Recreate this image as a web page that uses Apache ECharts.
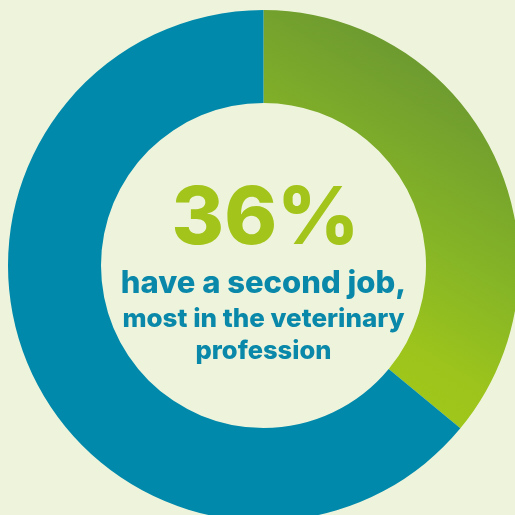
<!DOCTYPE html>
<html>
<head>
<meta charset="utf-8">
<script src="https://cdn.jsdelivr.net/npm/echarts@6/dist/echarts.min.js"></script>
<style>
  html, body { margin: 0; padding: 0; background: #eef4dc; }
  #chart { width: 515px; height: 515px; }
</style>
</head>
<body>
<div id="chart"></div>
<script>
// Share of respondents with a second job
const categories = ['Have a second job', 'No second job'];
const shares = [36, 64];
const headline = '36%';
const captionLines = ['have a second job,', 'most in the veterinary', 'profession'];

const chart = echarts.init(document.getElementById('chart'), null, { renderer: 'canvas' });

const greenFill = new echarts.graphic.LinearGradient(0, 1, 1, 0, [
  { offset: 0, color: '#a8cc14' },
  { offset: 0.3, color: '#9cc41c' },
  { offset: 0.5, color: '#86b526' },
  { offset: 1, color: '#5e8a36' }
]);
const sliceColors = [greenFill, '#0089ab'];

const fontFamily = 'Inter, "Open Sans", sans-serif';
const cx = 263.5;

function centreText(text, top, size, fill, shiftX) {
  return {
    type: 'text',
    x: cx + (shiftX || 0),
    y: top,
    silent: true,
    style: {
      text: text,
      fill: fill,
      font: '800 ' + size + 'px ' + fontFamily,
      align: 'center',
      verticalAlign: 'top'
    }
  };
}

chart.setOption({
  backgroundColor: '#eef4dc',
  animation: false,
  series: [{
    type: 'pie',
    center: [cx, 265.5],
    radius: [162.5, 255.5],
    startAngle: 90,
    clockwise: true,
    silent: true,
    label: { show: false },
    labelLine: { show: false },
    emphasis: { disabled: true },
    data: categories.map((name, i) => ({
      name,
      value: shares[i],
      itemStyle: { color: sliceColors[i] }
    }))
  }],
  graphic: [
    centreText(headline, 180, 80, '#a3c41a', 2),
    centreText(captionLines[0], 268, 31, '#0a88aa'),
    centreText(captionLines[1], 306, 26, '#0a88aa'),
    centreText(captionLines[2], 338, 25.5, '#0a88aa')
  ]
});
</script>
</body>
</html>
